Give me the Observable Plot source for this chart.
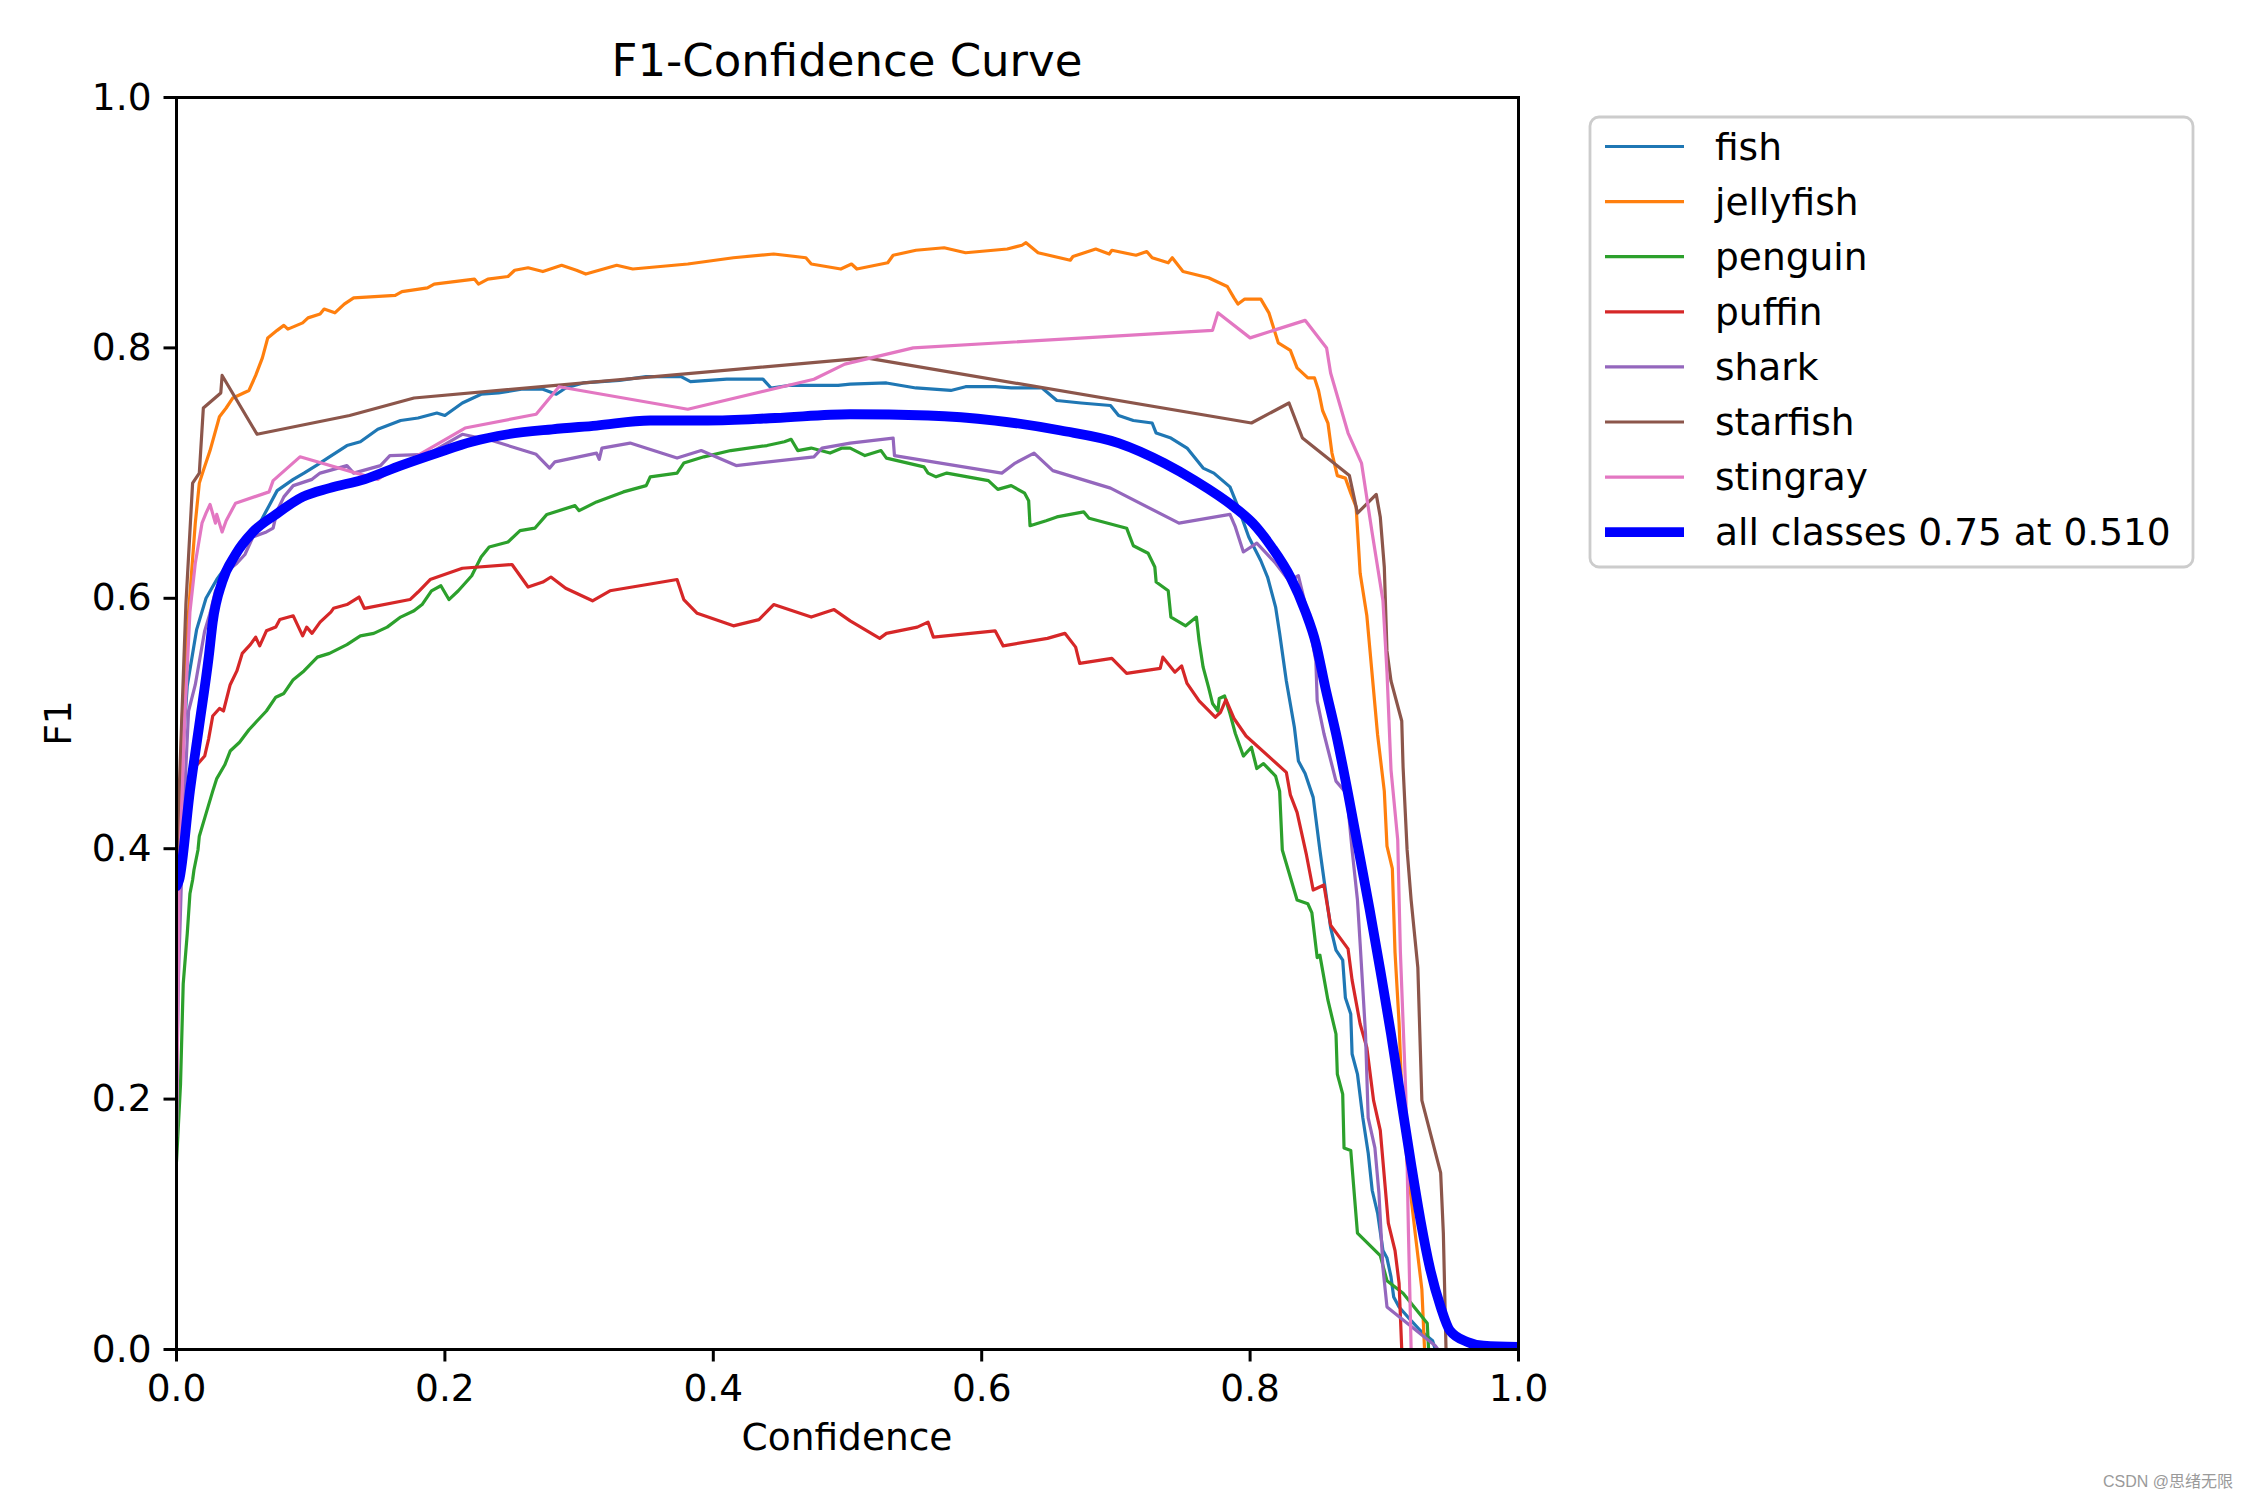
<!DOCTYPE html>
<html><head><meta charset="utf-8">
<script src="https://cdn.jsdelivr.net/npm/d3@7"></script>
<script src="https://cdn.jsdelivr.net/npm/@observablehq/plot@0.6"></script>
<style>
html,body{margin:0;padding:0;background:#fff;}
#wrap{position:relative;width:2250px;height:1500px;overflow:hidden;background:#fff;}
#wrap svg{position:absolute;left:0;top:0;}
</style></head><body><div id="wrap"></div>
<script>
const classNames = ["fish","jellyfish","penguin","puffin","shark","starfish","stingray"];
const classColors = ["#1f77b4","#ff7f0e","#2ca02c","#d62728","#9467bd","#8c564b","#e377c2"];
const allColor = "#0000ff";
const allLabel = "all classes 0.75 at 0.510";
const titleText = "F1-Confidence Curve";
const xLabelText = "Confidence";
const yLabelText = "F1";
const watermark = "CSDN @思绪无限";
const xTicks = [0, 0.2, 0.4, 0.6, 0.8, 1.0];
const yTicks = [0, 0.2, 0.4, 0.6, 0.8, 1.0];

const fish = [[0,0.2],[0.003,0.45],[0.008,0.53],[0.015,0.575],[0.022,0.6],[0.03,0.615],[0.04,0.63],[0.05,0.645],[0.062,0.66],[0.069,0.674],[0.075,0.686],[0.087,0.695],[0.095,0.700],[0.104,0.706],[0.114,0.713],[0.127,0.722],[0.137,0.725],[0.150,0.735],[0.167,0.742],[0.180,0.744],[0.194,0.748],[0.200,0.746],[0.213,0.756],[0.227,0.763],[0.240,0.764],[0.257,0.767],[0.273,0.767],[0.283,0.763],[0.290,0.768],[0.303,0.772],[0.330,0.774],[0.350,0.777],[0.376,0.777],[0.383,0.773],[0.410,0.775],[0.437,0.775],[0.443,0.768],[0.456,0.770],[0.469,0.770],[0.493,0.770],[0.502,0.771],[0.529,0.772],[0.551,0.768],[0.577,0.766],[0.588,0.769],[0.610,0.769],[0.622,0.768],[0.645,0.768],[0.656,0.758],[0.674,0.756],[0.696,0.754],[0.702,0.746],[0.713,0.742],[0.727,0.740],[0.730,0.732],[0.741,0.728],[0.753,0.720],[0.765,0.704],[0.773,0.700],[0.785,0.689],[0.791,0.673],[0.799,0.649],[0.808,0.630],[0.813,0.617],[0.819,0.593],[0.822,0.572],[0.827,0.534],[0.833,0.497],[0.836,0.470],[0.841,0.460],[0.847,0.441],[0.852,0.399],[0.860,0.337],[0.864,0.319],[0.869,0.311],[0.871,0.281],[0.875,0.268],[0.876,0.236],[0.880,0.220],[0.884,0.185],[0.888,0.157],[0.891,0.127],[0.895,0.109],[0.899,0.079],[0.902,0.073],[0.905,0.058],[0.907,0.042],[0.911,0.034],[0.920,0.023],[0.927,0.015],[0.936,0.007],[0.938,0],[1,0]];

const jellyfish = [[0,0.3],[0.004,0.5],[0.009,0.589],[0.014,0.66],[0.017,0.692],[0.02,0.702],[0.025,0.718],[0.032,0.745],[0.037,0.752],[0.042,0.76],[0.054,0.766],[0.059,0.778],[0.064,0.792],[0.068,0.808],[0.075,0.814],[0.08,0.818],[0.083,0.815],[0.094,0.82],[0.098,0.824],[0.107,0.827],[0.110,0.831],[0.118,0.828],[0.125,0.835],[0.132,0.840],[0.163,0.842],[0.168,0.845],[0.187,0.848],[0.192,0.851],[0.222,0.855],[0.225,0.851],[0.232,0.855],[0.247,0.857],[0.252,0.862],[0.262,0.864],[0.273,0.861],[0.287,0.866],[0.298,0.862],[0.305,0.859],[0.328,0.866],[0.340,0.863],[0.381,0.867],[0.415,0.872],[0.445,0.875],[0.469,0.872],[0.473,0.867],[0.495,0.863],[0.503,0.867],[0.507,0.863],[0.530,0.868],[0.534,0.874],[0.551,0.878],[0.572,0.880],[0.588,0.876],[0.619,0.879],[0.630,0.882],[0.633,0.884],[0.642,0.876],[0.666,0.870],[0.668,0.873],[0.685,0.879],[0.695,0.875],[0.697,0.878],[0.715,0.874],[0.723,0.877],[0.727,0.872],[0.739,0.868],[0.742,0.872],[0.750,0.861],[0.769,0.856],[0.783,0.849],[0.788,0.840],[0.791,0.835],[0.796,0.839],[0.808,0.839],[0.814,0.828],[0.821,0.804],[0.830,0.798],[0.835,0.784],[0.843,0.776],[0.848,0.776],[0.851,0.766],[0.854,0.750],[0.858,0.740],[0.861,0.716],[0.865,0.698],[0.871,0.696],[0.875,0.684],[0.879,0.673],[0.881,0.638],[0.882,0.620],[0.887,0.586],[0.895,0.491],[0.900,0.446],[0.902,0.402],[0.906,0.384],[0.908,0.317],[0.911,0.261],[0.913,0.205],[0.917,0.149],[0.923,0.093],[0.928,0.048],[0.930,0],[1,0]];

const penguin = [[0,0.15],[0.003,0.212],[0.005,0.292],[0.008,0.332],[0.010,0.364],[0.012,0.375],[0.013,0.383],[0.016,0.399],[0.017,0.410],[0.022,0.428],[0.027,0.446],[0.030,0.456],[0.036,0.467],[0.040,0.478],[0.047,0.485],[0.054,0.495],[0.060,0.502],[0.067,0.510],[0.074,0.521],[0.080,0.524],[0.087,0.535],[0.095,0.542],[0.105,0.553],[0.114,0.556],[0.127,0.563],[0.137,0.570],[0.147,0.572],[0.157,0.577],[0.167,0.585],[0.177,0.590],[0.183,0.595],[0.190,0.606],[0.197,0.610],[0.203,0.599],[0.210,0.606],[0.220,0.618],[0.227,0.633],[0.233,0.641],[0.247,0.645],[0.256,0.654],[0.267,0.656],[0.276,0.667],[0.297,0.674],[0.300,0.670],[0.313,0.677],[0.333,0.685],[0.350,0.690],[0.353,0.697],[0.373,0.700],[0.378,0.708],[0.393,0.713],[0.413,0.718],[0.440,0.722],[0.453,0.725],[0.458,0.727],[0.463,0.718],[0.473,0.720],[0.487,0.716],[0.496,0.720],[0.502,0.720],[0.513,0.714],[0.525,0.718],[0.529,0.712],[0.557,0.705],[0.560,0.700],[0.566,0.697],[0.574,0.700],[0.605,0.694],[0.612,0.687],[0.622,0.690],[0.632,0.684],[0.635,0.678],[0.636,0.658],[0.648,0.662],[0.656,0.665],[0.676,0.669],[0.680,0.664],[0.708,0.656],[0.713,0.642],[0.724,0.636],[0.729,0.625],[0.730,0.613],[0.739,0.606],[0.741,0.585],[0.752,0.578],[0.760,0.585],[0.762,0.566],[0.765,0.545],[0.769,0.529],[0.772,0.516],[0.776,0.510],[0.777,0.520],[0.781,0.522],[0.785,0.508],[0.789,0.492],[0.795,0.474],[0.801,0.481],[0.805,0.464],[0.810,0.468],[0.819,0.458],[0.822,0.446],[0.824,0.399],[0.835,0.359],[0.843,0.356],[0.846,0.349],[0.850,0.313],[0.852,0.315],[0.858,0.279],[0.864,0.252],[0.865,0.220],[0.869,0.204],[0.870,0.161],[0.875,0.159],[0.880,0.093],[0.897,0.075],[0.902,0.055],[0.914,0.045],[0.932,0.021],[0.933,0],[1,0]];

const puffin = [[0,0.2],[0.001,0.382],[0.007,0.428],[0.012,0.463],[0.021,0.474],[0.024,0.488],[0.027,0.506],[0.032,0.512],[0.035,0.510],[0.040,0.531],[0.045,0.542],[0.049,0.556],[0.055,0.563],[0.059,0.569],[0.062,0.562],[0.067,0.574],[0.074,0.577],[0.077,0.583],[0.087,0.586],[0.094,0.570],[0.097,0.577],[0.101,0.572],[0.107,0.581],[0.115,0.589],[0.117,0.592],[0.127,0.595],[0.136,0.601],[0.140,0.592],[0.174,0.599],[0.180,0.605],[0.189,0.615],[0.213,0.624],[0.250,0.627],[0.262,0.609],[0.273,0.613],[0.279,0.617],[0.290,0.608],[0.310,0.598],[0.323,0.606],[0.373,0.615],[0.378,0.599],[0.388,0.588],[0.415,0.578],[0.434,0.583],[0.445,0.595],[0.473,0.585],[0.490,0.591],[0.502,0.582],[0.524,0.568],[0.529,0.572],[0.552,0.577],[0.560,0.581],[0.564,0.569],[0.610,0.574],[0.616,0.562],[0.649,0.568],[0.662,0.572],[0.670,0.561],[0.673,0.548],[0.697,0.552],[0.708,0.540],[0.733,0.544],[0.735,0.553],[0.744,0.541],[0.749,0.546],[0.753,0.532],[0.762,0.518],[0.774,0.505],[0.778,0.509],[0.782,0.519],[0.788,0.504],[0.797,0.490],[0.827,0.461],[0.830,0.443],[0.835,0.429],[0.842,0.395],[0.847,0.367],[0.855,0.371],[0.860,0.339],[0.873,0.320],[0.876,0.295],[0.882,0.260],[0.887,0.241],[0.892,0.199],[0.897,0.175],[0.903,0.101],[0.908,0.079],[0.911,0.053],[0.913,0],[1,0]];

const shark = [[0,0.17],[0.001,0.282],[0.005,0.42],[0.009,0.510],[0.014,0.531],[0.021,0.574],[0.025,0.588],[0.029,0.606],[0.037,0.621],[0.045,0.628],[0.051,0.635],[0.057,0.649],[0.067,0.653],[0.072,0.656],[0.075,0.670],[0.080,0.681],[0.087,0.690],[0.101,0.695],[0.107,0.700],[0.127,0.706],[0.132,0.700],[0.152,0.706],[0.159,0.714],[0.187,0.715],[0.213,0.731],[0.235,0.726],[0.268,0.715],[0.278,0.704],[0.282,0.709],[0.313,0.716],[0.315,0.711],[0.317,0.720],[0.338,0.724],[0.373,0.712],[0.391,0.718],[0.417,0.706],[0.475,0.713],[0.481,0.720],[0.502,0.724],[0.534,0.728],[0.535,0.714],[0.615,0.700],[0.625,0.708],[0.639,0.716],[0.653,0.702],[0.696,0.688],[0.747,0.660],[0.785,0.667],[0.789,0.657],[0.795,0.637],[0.805,0.644],[0.819,0.628],[0.829,0.614],[0.836,0.618],[0.841,0.596],[0.849,0.550],[0.850,0.518],[0.855,0.492],[0.864,0.454],[0.872,0.444],[0.876,0.399],[0.880,0.359],[0.882,0.324],[0.886,0.252],[0.888,0.185],[0.893,0.161],[0.896,0.125],[0.899,0.065],[0.902,0.034],[0.938,0.003],[0.94,0],[1,0]];

const starfish = [[0,0.38],[0.002,0.446],[0.007,0.595],[0.012,0.692],[0.017,0.700],[0.020,0.752],[0.033,0.764],[0.034,0.778],[0.060,0.731],[0.129,0.746],[0.177,0.760],[0.514,0.792],[0.801,0.740],[0.829,0.756],[0.839,0.728],[0.874,0.698],[0.880,0.668],[0.894,0.683],[0.897,0.665],[0.900,0.625],[0.902,0.558],[0.905,0.534],[0.913,0.502],[0.914,0.465],[0.917,0.399],[0.920,0.359],[0.925,0.305],[0.928,0.199],[0.942,0.141],[0.944,0.093],[0.946,0],[1,0]];

const stingray = [[0,0.17],[0.002,0.375],[0.006,0.5],[0.010,0.589],[0.014,0.628],[0.019,0.660],[0.022,0.668],[0.025,0.675],[0.029,0.660],[0.030,0.667],[0.034,0.653],[0.037,0.662],[0.044,0.676],[0.069,0.685],[0.072,0.694],[0.092,0.713],[0.150,0.695],[0.157,0.700],[0.215,0.736],[0.268,0.747],[0.285,0.769],[0.381,0.751],[0.475,0.775],[0.498,0.787],[0.549,0.800],[0.772,0.814],[0.776,0.828],[0.800,0.808],[0.841,0.822],[0.857,0.800],[0.860,0.780],[0.873,0.732],[0.883,0.708],[0.891,0.652],[0.899,0.598],[0.902,0.541],[0.905,0.463],[0.910,0.407],[0.912,0.317],[0.916,0.205],[0.918,0.093],[0.920,0],[1,0]];

const allClasses = [[0,0.37],[0.002,0.375],[0.010,0.446],[0.017,0.499],[0.024,0.553],[0.027,0.581],[0.034,0.613],[0.044,0.635],[0.057,0.653],[0.074,0.667],[0.094,0.681],[0.114,0.688],[0.140,0.695],[0.167,0.706],[0.194,0.716],[0.220,0.725],[0.247,0.731],[0.280,0.735],[0.313,0.738],[0.353,0.742],[0.396,0.742],[0.446,0.744],[0.502,0.747],[0.560,0.746],[0.610,0.742],[0.659,0.734],[0.702,0.724],[0.736,0.708],[0.759,0.694],[0.788,0.673],[0.802,0.660],[0.816,0.641],[0.830,0.617],[0.841,0.590],[0.849,0.564],[0.856,0.529],[0.864,0.492],[0.873,0.444],[0.881,0.398],[0.889,0.352],[0.897,0.303],[0.905,0.252],[0.912,0.203],[0.920,0.148],[0.927,0.103],[0.934,0.065],[0.942,0.034],[0.949,0.015],[0.962,0.006],[0.974,0.003],[1,0.002]];

const classSeries = [fish, jellyfish, penguin, puffin, shark, starfish, stingray];
const rows = classSeries.flatMap((s, i) => s.map(([x, y]) => ({x, y, name: classNames[i]})));
const allRows = allClasses.map(([x, y]) => ({x, y}));

const W = 2250, H = 1500, ML = 176, MR = 732, MT = 97, MB = 151;
const FONT = "'DejaVu Sans', sans-serif";
const FS = 37.5;

const chart = Plot.plot({
  width: W, height: H,
  marginLeft: ML, marginRight: MR, marginTop: MT, marginBottom: MB,
  style: {fontFamily: FONT, fontSize: FS + "px", color: "#000", background: "transparent", overflow: "visible"},
  x: {domain: [0, 1]},
  y: {domain: [0, 1]},
  color: {domain: classNames, range: classColors},
  marks: [
    Plot.line(rows, {x: "x", y: "y", z: "name", stroke: "name", strokeWidth: 3.2, clip: true}),
    Plot.line(allRows, {x: "x", y: "y", stroke: allColor, strokeWidth: 9.8, curve: "monotone-x", clip: true}),
    Plot.frame({stroke: "#000", strokeWidth: 3}),
    Plot.axisX({ticks: xTicks, tickFormat: d3.format(".1f"), tickSize: 12.5, tickPadding: 12.5, strokeWidth: 3, label: null, fontSize: FS}),
    Plot.axisY({ticks: yTicks, tickFormat: d3.format(".1f"), tickSize: 12.5, tickPadding: 12.5, strokeWidth: 3, label: null, fontSize: FS})
  ]
});
const wrap = document.getElementById("wrap");
wrap.appendChild(chart);

// overlay: title, axis labels, legend, watermark
const ov = d3.create("svg").attr("width", W).attr("height", H)
  .style("font-family", FONT).style("pointer-events", "none");
const cx = ML + (W - ML - MR) / 2;
const cy = MT + (H - MT - MB) / 2;
ov.append("text").attr("x", cx).attr("y", 76).attr("text-anchor", "middle")
  .attr("font-size", 45).attr("fill", "#000").text(titleText);
ov.append("text").attr("x", cx).attr("y", 1450).attr("text-anchor", "middle")
  .attr("font-size", FS).attr("fill", "#000").text(xLabelText);
ov.append("text").attr("transform", `translate(71,${cy}) rotate(-90)`).attr("text-anchor", "middle")
  .attr("font-size", FS).attr("fill", "#000").text(yLabelText);

const legendItems = classNames.map((n, i) => ({label: n, color: classColors[i], w: 3.2}))
  .concat([{label: allLabel, color: allColor, w: 9.8}]);
const lg = ov.append("g");
lg.append("rect").attr("x", 1590).attr("y", 117).attr("width", 603).attr("height", 450)
  .attr("rx", 9).attr("fill", "#fff").attr("fill-opacity", 0.8)
  .attr("stroke", "#cccccc").attr("stroke-width", 2.8);
legendItems.forEach((d, i) => {
  const y = 146.5 + 55.1 * i;
  lg.append("line").attr("x1", 1605).attr("x2", 1684).attr("y1", y).attr("y2", y)
    .attr("stroke", d.color).attr("stroke-width", d.w);
  lg.append("text").attr("x", 1715).attr("y", y + 13).attr("font-size", FS).attr("fill", "#000").text(d.label);
});
ov.append("text").attr("x", 2233).attr("y", 1487).attr("text-anchor", "end")
  .attr("font-size", 16).attr("fill", "#9a9a9a")
  .attr("font-family", "'Liberation Sans', 'Noto Sans CJK SC', sans-serif").text(watermark);
wrap.appendChild(ov.node());
</script></body></html>
